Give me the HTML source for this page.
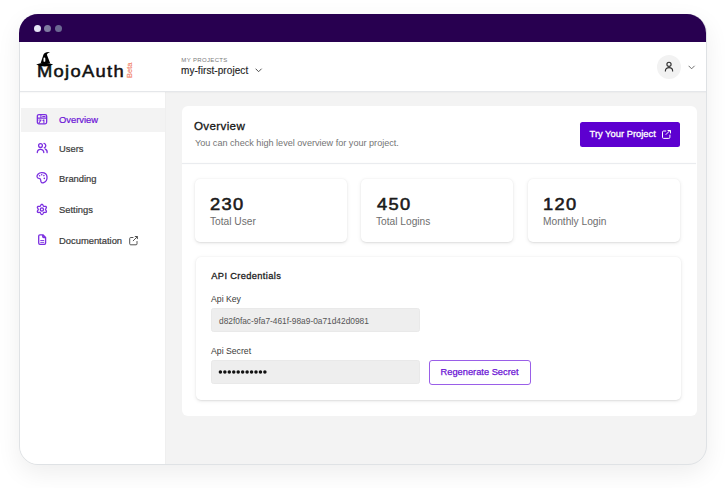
<!DOCTYPE html>
<html><head><meta charset="utf-8">
<style>
*{box-sizing:border-box;margin:0;padding:0}
html,body{width:725px;height:488px;overflow:hidden;background:#fff;font-family:"Liberation Sans",sans-serif}
.a{position:absolute;white-space:nowrap}
.win{position:absolute;left:19px;top:14px;width:688px;height:451px;border-radius:19px;background:#f3f3f3;border:1px solid #dfe2e5;box-shadow:0 8px 24px rgba(0,0,0,0.07)}
.title{position:absolute;left:19px;top:14px;width:687.3px;height:28px;background:#280050;border-radius:19px 19px 0 0}
.dot{position:absolute;top:25px;width:7px;height:7px;border-radius:50%}
.header{position:absolute;left:20px;top:42px;width:686px;height:50px;background:#fff;border-bottom:1px solid #e5e7ea;box-shadow:0 1px 1px rgba(0,0,0,0.025)}
.side{position:absolute;left:20px;top:91px;width:144.6px;box-shadow:0.5px 0 1px rgba(0,0,0,0.02);height:373px;background:#fff;border-bottom-left-radius:18px}
.card{position:absolute;background:#fff;border-radius:6px}
.stat{position:absolute;background:#fff;border-radius:5px;box-shadow:0 1px 4px rgba(0,0,0,0.09),0 0.5px 1.5px rgba(0,0,0,0.07)}
.nt{font-size:9.4px;color:#3a3a3a;-webkit-text-stroke:0.2px #3a3a3a}
.ico{position:absolute;fill:none;stroke:#7b2ee0;stroke-width:1.3;stroke-linecap:round;stroke-linejoin:round}
.lbl{font-size:10.2px;color:#6e6e6e}
.num{font-size:16.8px;color:#1a1a1a;letter-spacing:1.2px;-webkit-text-stroke:0.55px #1a1a1a;transform:scaleX(1.09);transform-origin:0 0}
.inp{position:absolute;background:#eeeeee;border:1px solid #e9e9e9;border-radius:2.5px}
</style></head><body>
<div class="win"></div>
<div class="title"></div>
<div class="dot" style="left:33.8px;background:#e6e5f5"></div>
<div class="dot" style="left:44.4px;background:#7f7ba0"></div>
<div class="dot" style="left:55px;background:#6b6892"></div>
<div class="side"></div>
<div class="header"></div>

<!-- logo -->
<div class="a" style="left:37px;top:61.5px;font-size:17px;color:#111;letter-spacing:1.2px;-webkit-text-stroke:0.5px #111;transform:scaleX(1.08);transform-origin:0 0">MojoAuth</div>
<svg class="a" style="left:35px;top:50px" width="20" height="18" viewBox="0 0 20 18">
  <path d="M1.2 14.4 Q9.7 11 18.2 14.4 Q9.7 18.6 1.2 14.4Z" fill="#000"/>
  <path d="M5.6 13.2 L8.5 4.4 C9.3 2.4 12.2 1.5 15.2 2.1 C13.3 2.7 12.3 3.6 11.9 4.8 L15.2 13.2Z" fill="#000"/>
  <path d="M9.4 7.6 a0.9 0.9 0 0 1 0.9 0.9 v2.4 a0.9 0.9 0 0 1 -1.8 0 v-2.4 a0.9 0.9 0 0 1 0.9 -0.9z" fill="#fff"/>
</svg>
<div class="a" style="left:121.5px;top:63px;width:15px;height:15px">
  <div class="a" style="left:0;top:0;width:15px;font-size:7.5px;color:#f27f68;-webkit-text-stroke:0.15px #f27f68;transform:rotate(-90deg);transform-origin:7.5px 7.5px;line-height:15px">Beta</div>
</div>

<!-- project selector -->
<div class="a" style="left:181.3px;top:56.8px;font-size:6px;color:#7a7a7a;letter-spacing:0.35px">MY PROJECTS</div>
<div class="a" style="left:181px;top:64.8px;font-size:10px;letter-spacing:0.07px;color:#1e1e1e;-webkit-text-stroke:0.15px #1e1e1e">my-first-project</div>
<svg class="a" style="left:255px;top:68px" width="8" height="5" viewBox="0 0 8 5"><path d="M0.6 0.7 L3.6 3.7 L6.6 0.7" fill="none" stroke="#444" stroke-width="0.95"/></svg>

<!-- avatar -->
<div class="a" style="left:657px;top:55px;width:24px;height:24px;border-radius:50%;background:#f2f2f2"></div>
<svg class="a" style="left:663px;top:60px" width="12" height="13" viewBox="0 0 12 13"><circle cx="6" cy="4.3" r="2.1" fill="none" stroke="#333" stroke-width="1.15"/><path d="M2.4 11.6 V10.8 C2.4 8.8 3.9 7.6 6 7.6 C8.1 7.6 9.6 8.8 9.6 10.8 V11.6" fill="none" stroke="#333" stroke-width="1.15"/></svg>
<svg class="a" style="left:687.8px;top:64.8px" width="8" height="5" viewBox="0 0 8 5"><path d="M0.6 0.8 L3.6 3.8 L6.6 0.8" fill="none" stroke="#666" stroke-width="0.95"/></svg>

<!-- sidebar nav -->
<div class="a" style="left:21px;top:108px;width:144px;height:24px;background:#f3f3f3"></div>
<svg class="ico" style="left:33px;top:110px" width="18" height="18" viewBox="0 0 18 18"><rect x="4.35" y="4.6" width="9.3" height="9.2" rx="1.5"/><path d="M4.4 8.1h9.2M7.9 4.8v3.2M9.7 6.4h2.4M5.9 10h2.2l-2.1 2.9M10 10.5l0.9 -0.7v3.3" stroke-width="1.05"/></svg>
<div class="a nt" style="left:59px;top:113.5px;color:#6a10d6;-webkit-text-stroke:0.2px #6a10d6">Overview</div>

<svg class="ico" style="left:33px;top:139px" width="18" height="18" viewBox="0 0 18 18"><circle cx="7.5" cy="6.6" r="1.9"/><path d="M4.3 13.6a3.25 3.25 0 0 1 6.5 0M11 4.4a2.3 2.3 0 0 1 0.3 4.4M12.3 10.1a3.3 3.3 0 0 1 1.8 3.5"/></svg>
<div class="a nt" style="left:59px;top:142.6px">Users</div>

<svg class="ico" style="left:33px;top:169px" width="18" height="18" viewBox="0 0 18 18"><path d="M7.9 12.4C8.4 13.7 9.6 14 10.7 13.6C12.9 12.8 14.2 10.6 14 7.9C13.8 5.1 11.4 3.6 8.6 3.7C5.8 3.8 3.9 5.5 4 7.5C4.1 8.7 4.8 9.3 5.8 9.3C7 9.3 7.6 9.9 7.7 11Z"/><path d="M6.6 6.8h0.01M8.7 5.7h0.01M10.9 6.6h0.01M11.3 9.4h0.01" stroke-width="1.6"/></svg>
<div class="a nt" style="left:59px;top:172.6px">Branding</div>

<svg class="ico" style="left:33px;top:200px" width="18" height="18" viewBox="0 0 18 18"><path d="M12.50 9.40 L12.55 9.16 L12.69 8.90 L12.88 8.61 L13.10 8.27 L13.29 7.91 L13.41 7.53 L13.42 7.17 L13.32 6.85 L13.09 6.60 L12.77 6.43 L12.39 6.34 L11.98 6.32 L11.58 6.35 L11.23 6.37 L10.93 6.36 L10.70 6.28 L10.52 6.12 L10.36 5.87 L10.21 5.55 L10.03 5.20 L9.80 4.85 L9.54 4.56 L9.23 4.37 L8.90 4.30 L8.57 4.37 L8.26 4.56 L8.00 4.85 L7.77 5.20 L7.59 5.55 L7.44 5.87 L7.28 6.12 L7.10 6.28 L6.87 6.36 L6.57 6.37 L6.22 6.35 L5.82 6.32 L5.41 6.34 L5.03 6.43 L4.71 6.60 L4.48 6.85 L4.38 7.17 L4.39 7.53 L4.51 7.91 L4.70 8.27 L4.92 8.61 L5.11 8.90 L5.25 9.16 L5.30 9.40 L5.25 9.64 L5.11 9.90 L4.92 10.19 L4.70 10.53 L4.51 10.89 L4.39 11.27 L4.38 11.63 L4.48 11.95 L4.71 12.20 L5.03 12.37 L5.41 12.46 L5.82 12.48 L6.22 12.45 L6.57 12.43 L6.87 12.44 L7.10 12.52 L7.28 12.68 L7.44 12.93 L7.59 13.25 L7.77 13.60 L8.00 13.95 L8.26 14.24 L8.57 14.43 L8.90 14.50 L9.23 14.43 L9.54 14.24 L9.80 13.95 L10.03 13.60 L10.21 13.25 L10.36 12.93 L10.52 12.68 L10.70 12.52 L10.93 12.44 L11.23 12.43 L11.58 12.45 L11.98 12.48 L12.39 12.46 L12.77 12.37 L13.09 12.20 L13.32 11.95 L13.42 11.63 L13.41 11.27 L13.29 10.89 L13.10 10.53 L12.88 10.19 L12.69 9.90 L12.55 9.64 L12.50 9.40Z"/><circle cx="8.9" cy="9.4" r="1.6"/></svg>
<div class="a nt" style="left:59px;top:203.6px">Settings</div>

<svg class="ico" style="left:33px;top:231px" width="18" height="18" viewBox="0 0 18 18"><path d="M6.9 3.8h3l2.7 2.7v5.6a1.2 1.2 0 0 1 -1.2 1.2h-4.5a1.2 1.2 0 0 1 -1.2 -1.2v-7.1a1.2 1.2 0 0 1 1.2 -1.2zM9.7 4v1.6a0.9 0.9 0 0 0 0.9 0.9h1.8"/><path d="M7.7 9.5h3.1M7.7 11.4h3.1" stroke-width="0.9"/></svg>
<div class="a nt" style="left:59px;top:234.6px">Documentation</div>
<svg class="a" style="left:128px;top:235px" width="11" height="11" viewBox="0 0 11 11"><path d="M5 2.5h-2.3a1 1 0 0 0 -1 1v5.3a1 1 0 0 0 1 1h5.3a1 1 0 0 0 1 -1v-2.3M5.2 5.8l4 -4M7.2 1.5h2.2v2.2" fill="none" stroke="#4a4a4a" stroke-width="0.95" stroke-linecap="round" stroke-linejoin="round"/></svg>

<!-- main card -->
<div class="card" style="left:182px;top:106px;width:515px;height:310px"></div>
<div class="a" style="left:182px;top:163px;width:514px;height:1px;background:#eaecef;box-shadow:0 0 1.5px rgba(40,50,70,0.06)"></div>
<div class="a" style="left:194px;top:119.3px;font-size:11.6px;letter-spacing:0.35px;color:#151515;-webkit-text-stroke:0.3px #151515">Overview</div>
<div class="a" style="left:195px;top:137.8px;font-size:9.1px;color:#747474">You can check high level overview for your project.</div>
<div class="a" style="left:579.6px;top:122.3px;width:100.4px;height:25px;background:#5d00d0;border-radius:2.5px"></div>
<div class="a" style="left:589.5px;top:128px;font-size:9.4px;color:#fff;-webkit-text-stroke:0.3px #fff">Try Your Project</div>
<svg class="a" style="left:661px;top:129px" width="11" height="11" viewBox="0 0 11 11"><path d="M4.8 2h-2.2a1.1 1.1 0 0 0 -1.1 1.1v5.2a1.1 1.1 0 0 0 1.1 1.1h5.2a1.1 1.1 0 0 0 1.1 -1.1v-2.2M5 5.5l4 -4M7 1.5h2.5v2.5" fill="none" stroke="#fff" stroke-width="1" stroke-linecap="round" stroke-linejoin="round"/></svg>

<!-- stats -->
<div class="stat" style="left:195px;top:179px;width:152px;height:63px"></div>
<div class="stat" style="left:361px;top:179px;width:152px;height:63px"></div>
<div class="stat" style="left:528px;top:179px;width:152px;height:63px"></div>
<div class="a num" style="left:210.3px;top:194.5px">230</div>
<div class="a lbl" style="left:210px;top:215.6px">Total User</div>
<div class="a num" style="left:377px;top:194.5px">450</div>
<div class="a lbl" style="left:376px;top:215.6px">Total Logins</div>
<div class="a num" style="left:543.3px;top:194.5px">120</div>
<div class="a lbl" style="left:543px;top:215.6px">Monthly Login</div>

<!-- api credentials -->
<div class="stat" style="left:196px;top:257px;width:485px;height:143px"></div>
<div class="a" style="left:211.3px;top:271.3px;font-size:9.3px;letter-spacing:0.35px;color:#1c1c1c;-webkit-text-stroke:0.3px #1c1c1c">API Credentials</div>
<div class="a" style="left:211px;top:294px;font-size:8.7px;color:#3a3a3a">Api Key</div>
<div class="inp" style="left:211px;top:308px;width:209px;height:24px"></div>
<div class="a" style="left:219px;top:316px;font-size:8.35px;color:#555">d82f0fac-9fa7-461f-98a9-0a71d42d0981</div>
<div class="a" style="left:211px;top:346px;font-size:8.7px;color:#3a3a3a">Api Secret</div>
<div class="inp" style="left:211px;top:360px;width:209px;height:24px"></div>
<svg class="a" style="left:218px;top:368px" width="52" height="8" viewBox="0 0 52 8" fill="#111"><circle cx="2.40" cy="4" r="1.75"/><circle cx="6.85" cy="4" r="1.75"/><circle cx="11.30" cy="4" r="1.75"/><circle cx="15.75" cy="4" r="1.75"/><circle cx="20.20" cy="4" r="1.75"/><circle cx="24.65" cy="4" r="1.75"/><circle cx="29.10" cy="4" r="1.75"/><circle cx="33.55" cy="4" r="1.75"/><circle cx="38.00" cy="4" r="1.75"/><circle cx="42.45" cy="4" r="1.75"/><circle cx="46.90" cy="4" r="1.75"/></svg>
<div class="a" style="left:429px;top:359.7px;width:102px;height:25px;border:1px solid #9a5fe8;border-radius:3px"></div>
<div class="a" style="left:440.5px;top:367px;font-size:9.3px;color:#6a12d4;-webkit-text-stroke:0.25px #6a12d4">Regenerate Secret</div>
</body></html>
